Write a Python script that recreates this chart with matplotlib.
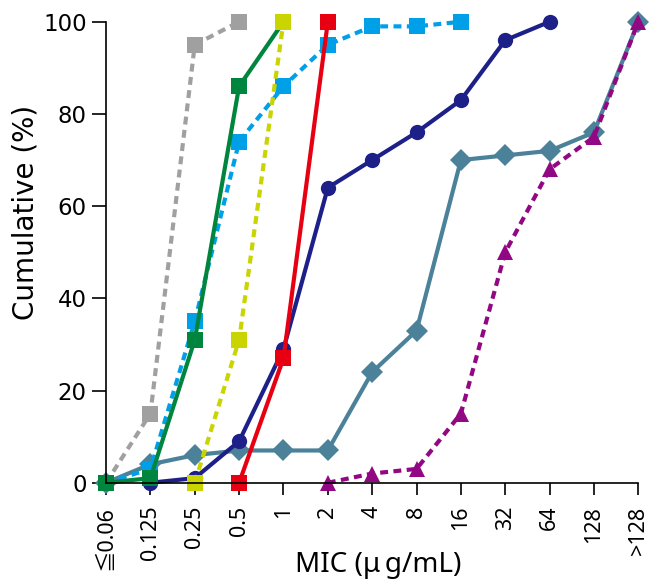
import numpy as np
import matplotlib.pyplot as plt

plt.rcParams['font.family'] = ['Noto Sans', 'Noto Sans CJK JP', 'DejaVu Sans']

nan = np.nan

mic_labels = ['≦0.06', '0.125', '0.25', '0.5', '1', '2', '4', '8', '16', '32', '64', '128', '>128']

# cumulative % per MIC step (nan = not plotted)
teal_vals   = [0, 4, 6, 7, 7, 7, 24, 33, 70, 71, 72, 76, 100]
navy_vals   = [nan, 0, 1, 9, 29, 64, 70, 76, 83, 96, 100, nan, nan]
gray_vals   = [0, 15, 95, 100, nan, nan, nan, nan, nan, nan, nan, nan, nan]
blue_vals   = [0, 3, 35, 74, 86, 95, 99, 99, 100, nan, nan, nan, nan]
green_vals  = [0, 1, 31, 86, 100, nan, nan, nan, nan, nan, nan, nan, nan]
yellow_vals = [nan, nan, 0, 31, 100, nan, nan, nan, nan, nan, nan, nan, nan]
red_vals    = [nan, nan, nan, 0, 27, 100, nan, nan, nan, nan, nan, nan, nan]
purple_vals = [nan, nan, nan, nan, nan, 0, 2, 3, 15, 50, 68, 75, 100]

dash = (0, (1.9, 1.3))
series = [
    (teal_vals, '#4b8199', '-', 'D', 11),
    (navy_vals, '#1d2088', '-', 'o', 11),
    (gray_vals, '#a0a0a0', dash, 's', 11),
    (blue_vals, '#00a0e9', dash, 's', 11),
    (green_vals, '#00853e', '-', 's', 11),
    (yellow_vals, '#c9d400', dash, 's', 11),
    (red_vals, '#e60012', '-', 's', 11),
    (purple_vals, '#920783', dash, '^', 11),
]

fig = plt.figure(figsize=(6.67, 5.88), dpi=100)
ax = fig.add_axes([0.159, 0.179, 0.798, 0.784])

x = np.arange(len(mic_labels))
for vals, col, ls, mk, ms in series:
    y = np.array(vals, dtype=float)
    ok = ~np.isnan(y)
    ax.plot(x[ok], y[ok], color=col, linestyle=ls, linewidth=3,
            marker=mk, markersize=ms, markeredgewidth=0, clip_on=False)

ax.set_xlim(0, len(mic_labels) - 1)
ax.set_ylim(0, 100)
ax.set_xticks(x)
ax.set_xticklabels(mic_labels, rotation=90, fontsize=15.5)
ax.set_yticks([0, 20, 40, 60, 80, 100])
ax.set_yticklabels(['0', '20', '40', '60', '80', '100'], family='DejaVu Sans')
ax.tick_params(axis='y', labelsize=16.5, length=10, width=1.2, direction='out', pad=4)
ax.tick_params(axis='x', length=8.5, width=1.2, direction='out', pad=8)

for s in ['top', 'right']:
    ax.spines[s].set_visible(False)
for s in ['left', 'bottom']:
    ax.spines[s].set_linewidth(1.2)

# axis titles placed by hand, as in the original layout
fig.text(26 / 667, 1 - 212 / 588, 'Cumulative (%)', fontsize=20, rotation=90,
         ha='center', va='center', family='DejaVu Sans')
fig.text(378 / 667, 1 - 565 / 588, 'MIC (μ\u2009g/mL)', fontsize=20,
         ha='center', va='center')

plt.savefig('out.png', dpi=100)
